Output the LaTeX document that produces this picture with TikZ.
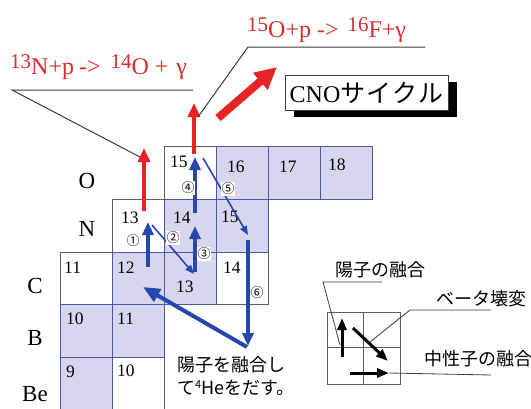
\documentclass[tikz,border=0pt]{standalone}
\usepackage{fontspec}
\setmainfont{Liberation Serif}
\newfontfamily\jp{Noto Sans CJK JP}
\usetikzlibrary{arrows.meta}
\definecolor{cellfill}{RGB}{214,214,238}
\definecolor{cellblue}{RGB}{75,88,170}
\definecolor{cellgray}{RGB}{95,95,95}
\definecolor{arrblue}{RGB}{38,72,172}
\definecolor{arrred}{RGB}{232,35,35}
\definecolor{txtred}{RGB}{215,45,45}
\definecolor{lineg}{RGB}{60,60,60}
\newcommand{\myup}[1]{\raisebox{6pt}{\fontsize{21}{21}\selectfont #1}}
\begin{document}
\begin{tikzpicture}[x=1pt,y=-1pt,
  wcell/.style={draw=cellgray, line width=0.9pt, fill=white, anchor=north west, minimum width=52pt, minimum height=53pt, inner sep=0pt, outer sep=0pt},
  scell/.style={draw=cellblue, line width=0.9pt, fill=cellfill, anchor=north west, minimum width=52pt, minimum height=53pt, inner sep=0pt, outer sep=0pt},
  num/.style={font=\fontsize{17.5}{17.5}\selectfont, anchor=base west, inner sep=0pt},
  rowlab/.style={font=\fontsize{23}{23}\selectfont, inner sep=0pt},
  circ/.style={font=\jp\fontsize{13}{13}\selectfont, fill=white, inner sep=0.5pt},
  bthick/.style={draw=arrblue, line width=4pt, -{Triangle[length=13pt,width=11pt]}},
  bthin/.style={draw=arrblue, line width=1.6pt, -{Triangle[length=9pt,width=7pt]}},
  rthick/.style={draw=arrred, line width=4pt, -{Triangle[length=14pt,width=12pt]}},
  kthick/.style={draw=black, line width=3pt, -{Triangle[length=12pt,width=9pt]}},
  callout/.style={draw=lineg, line width=1pt},
  redtxt/.style={text=txtred, font=\fontsize{24}{24}\selectfont, inner sep=0pt, anchor=base west},
  jptxt/.style={font=\jp\fontsize{18}{18}\selectfont, inner sep=0pt, anchor=base west},
]
\useasboundingbox (0,0) rectangle (531,408);
% white cells
\node[wcell] (O15) at (164,146) {};
\node[wcell] (N13) at (112,199) {};
\node[wcell] (C11) at (60,252) {};
\node[wcell, minimum height=52pt] (C14) at (216,252) {};
\node[wcell, minimum height=56pt] (Be10) at (112,357) {};
% shaded cells
\node[scell] (O16) at (216,146) {};
\node[scell] (O17) at (268,146) {};
\node[scell] (O18) at (320,146) {};
\node[scell] (N14) at (164,199) {};
\node[scell] (N15) at (216,199) {};
\node[scell, minimum height=52pt] (C12) at (112,252) {};
\node[scell, minimum height=52pt] (C13) at (164,252) {};
\node[scell] (B10) at (60,304) {};
\node[scell] (B11) at (112,304) {};
\node[scell, minimum height=56pt] (Be9) at (60,357) {};
% numbers
\node[num, xshift=6pt, yshift=-21pt] (nO15) at (O15.north west) {15};
\node[num, xshift=11pt, yshift=-26pt] (nO16) at (O16.north west) {16};
\node[num, xshift=11pt, yshift=-26pt] (nO17) at (O17.north west) {17};
\node[num, xshift=8pt, yshift=-24pt] (nO18) at (O18.north west) {18};
\node[num, xshift=9pt, yshift=-24pt] (nN13) at (N13.north west) {13};
\node[num, xshift=9pt, yshift=-24pt] (nN14) at (N14.north west) {14};
\node[num, xshift=5pt, yshift=-23pt] (nN15) at (N15.north west) {15};
\node[num, xshift=4pt, yshift=-21pt] (nC11) at (C11.north west) {11};
\node[num, xshift=5pt, yshift=-21pt] (nC12) at (C12.north west) {12};
\node[num, xshift=12pt, yshift=-40pt] (nC13) at (C13.north west) {13};
\node[num, xshift=7pt, yshift=-21pt] (nC14) at (C14.north west) {14};
\node[num, xshift=6pt, yshift=-20pt] (nB10) at (B10.north west) {10};
\node[num, xshift=5pt, yshift=-20pt] (nB11) at (B11.north west) {11};
\node[num, xshift=6pt, yshift=-20pt] (nBe9) at (Be9.north west) {9};
\node[num, xshift=5pt, yshift=-19pt] (nBe10) at (Be10.north west) {10};
% row labels
\node[rowlab] (lO) at (87,181) {O};
\node[rowlab] (lN) at (87,229) {N};
\node[rowlab] (lC) at (35,286) {C};
\node[rowlab] (lB) at (35,338) {B};
\node[rowlab] (lBe) at (35,394) {Be};
% arrow end points
\coordinate (a1s) at (148,267); \coordinate (a1e) at (148,222);
\coordinate (d1s) at (152,225); \coordinate (d1e) at (194,274);
\coordinate (a3s) at (195,272); \coordinate (a3e) at (195,226);
\coordinate (a4s) at (195,213); \coordinate (a4e) at (195,157);
\coordinate (d2s) at (203,158); \coordinate (d2e) at (248,235);
\coordinate (a6s) at (248,240); \coordinate (a6e) at (248,346);
\coordinate (bds) at (247,347); \coordinate (bde) at (143,287);
\coordinate (r1s) at (144,211); \coordinate (r1e) at (144,148);
\coordinate (r2s) at (194,154); \coordinate (r2e) at (194,103);
\coordinate (r3s) at (218,118); \coordinate (r3e) at (277,67);
% blue arrows
\draw[bthick] (a1s) -- (a1e);
\draw[bthin] (d1s) -- (d1e);
\draw[bthick] (a3s) -- (a3e);
\draw[bthick] (a4s) -- (a4e);
\draw[bthin] (d2s) -- (d2e);
\draw[bthick] (a6s) -- (a6e);
\draw[draw=arrblue, line width=4pt, -{Triangle[length=17pt,width=14pt]}] (bds) -- (bde);
% red arrows
\draw[rthick] (r1s) -- (r1e);
\draw[rthick] (r2s) -- (r2e);
\draw[draw=arrred, line width=8pt, -{Triangle[length=22pt,width=21pt]}] (r3s) -- (r3e);
% circled numbers
\node[circ] (c1) at (133,241) {①};
\node[circ] (c2) at (173,238) {②};
\node[circ] (c3) at (204,254) {③};
\node[circ] (c4) at (188,188) {④};
\node[circ] (c5) at (228,189) {⑤};
\node[circ] (c6) at (257,293) {⑥};
% red reaction labels
\node[redtxt] (eq1) at (10,74) {\myup{13}N+p\hspace{5pt}-{>}\hspace{10pt}\myup{14}O\hspace{6pt}+\hspace{8pt}γ};
\node[redtxt] (eq2) at (247,37) {\myup{15}O+p\hspace{6pt}-{>}\hspace{9pt}\myup{16}F+γ};
\coordinate (k1a) at (12,90); \coordinate (k1b) at (193,90); \coordinate (k1c) at (140,157);
\draw[callout] (k1c) -- (k1a) -- (k1b);
\coordinate (k2a) at (248,47); \coordinate (k2b) at (425,47); \coordinate (k2c) at (198,117);
\draw[callout] (k2c) -- (k2a) -- (k2b);
% CNO box
\coordinate (cnoSW) at (285,110); \coordinate (cnoNE) at (448,75);
\fill[black] ([xshift=9pt,yshift=-7pt]cnoSW) rectangle ([xshift=9pt,yshift=-7pt]cnoNE);
\node[draw=lineg, line width=0.8pt, fill=white, minimum width=163pt, minimum height=35pt, inner sep=0pt] (cno) at (366.5,92.5)
  {\fontsize{24}{24}\selectfont CNO{\jp\fontsize{25}{25}\selectfont サ\hspace{1pt}イ\hspace{1pt}ク\hspace{1pt}ル}};
% explanatory text
\node[jptxt] (he1) at (177,371) {陽子を融合し};
\node[jptxt] (he2) at (177,394) {て\raisebox{6pt}{\fontsize{11}{11}\selectfont 4}Heをだす。};
% legend grid
\draw[draw=cellgray, line width=0.9pt] (327,312) rectangle (400,384);
\draw[draw=cellgray, line width=0.9pt] (363,312) -- (363,384);
\draw[draw=cellgray, line width=0.9pt] (327,347) -- (400,347);
\coordinate (lg1s) at (342,357); \coordinate (lg1e) at (342,318);
\coordinate (lg2s) at (353,328); \coordinate (lg2e) at (388,361);
\coordinate (lg3s) at (350,373); \coordinate (lg3e) at (389,373);
\draw[kthick] (lg1s) -- (lg1e);
\draw[kthick] (lg2s) -- (lg2e);
\draw[kthick] (lg3s) -- (lg3e);
\node[jptxt] (t1) at (335,276) {陽子の融合};
\node[jptxt] (t2) at (436,305) {ベータ壊変};
\node[jptxt] (t3) at (424,365) {中性子の融合};
\coordinate (m1a) at (323,282); \coordinate (m1b) at (382,282); \coordinate (m1c) at (340,345);
\draw[callout, line width=0.8pt] (m1c) -- (m1a) -- (m1b);
\coordinate (m2a) at (410,310); \coordinate (m2b) at (491,310); \coordinate (m2c) at (370,342);
\draw[callout, line width=0.8pt] (m2c) -- (m2a) -- (m2b);
\coordinate (m3b) at (491,375);
\draw[callout, line width=0.8pt] (lg3e) -- (m3b);
\end{tikzpicture}
\end{document}
